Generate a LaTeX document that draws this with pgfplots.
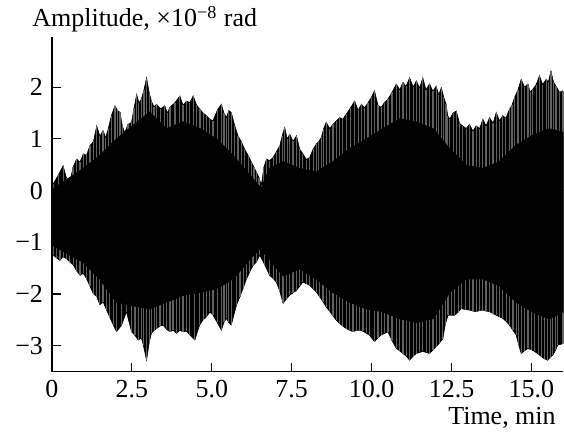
\documentclass[border=0pt]{standalone}
\usepackage{fontspec}
\setmainfont{Liberation Serif}
\usepackage{pgfplots}
\pgfplotsset{compat=1.18}
\usepackage{pgfplotstable}

% outer envelope (spike tips), upper side
\pgfplotstableread{
t v
0.00 0.10
0.04 0.13
0.20 0.30
0.35 0.48
0.45 0.25
0.56 0.16
0.66 0.45
0.77 0.61
0.88 0.55
0.98 0.71
1.08 0.68
1.19 0.87
1.30 0.95
1.40 1.25
1.50 1.05
1.60 1.16
1.68 1.02
1.76 1.19
1.86 1.45
1.97 1.64
2.05 1.55
2.13 1.51
2.20 1.25
2.28 1.12
2.38 1.28
2.49 1.32
2.57 1.60
2.65 1.86
2.72 1.70
2.80 1.77
2.88 1.95
2.96 2.18
3.04 1.90
3.11 1.73
3.19 1.62
3.27 1.67
3.40 1.58
3.53 1.64
3.61 1.50
3.69 1.61
3.85 1.70
4.00 1.83
4.10 1.65
4.21 1.73
4.31 1.70
4.42 1.83
4.52 1.66
4.63 1.57
4.73 1.50
4.83 1.45
4.94 1.38
5.04 1.35
5.17 1.55
5.30 1.67
5.38 1.50
5.46 1.41
5.53 1.55
5.61 1.51
5.72 1.25
5.82 1.06
5.92 0.95
6.03 0.80
6.14 0.68
6.24 0.55
6.32 0.45
6.40 0.35
6.48 0.25
6.55 0.10
6.63 0.45
6.71 0.61
6.81 0.58
6.92 0.64
7.02 0.75
7.13 0.87
7.20 1.05
7.28 1.22
7.36 1.00
7.44 1.09
7.54 0.95
7.65 1.06
7.75 0.80
7.85 0.71
7.96 0.60
8.06 0.64
8.17 0.80
8.27 0.90
8.35 0.95
8.43 1.03
8.50 1.20
8.58 1.32
8.69 1.20
8.79 1.28
8.90 1.35
9.00 1.41
9.10 1.38
9.21 1.48
9.34 1.60
9.47 1.73
9.58 1.55
9.68 1.67
9.78 1.60
9.89 1.70
9.99 1.80
10.09 1.93
10.20 1.65
10.30 1.61
10.40 1.70
10.51 1.77
10.64 1.90
10.77 2.06
10.88 1.95
10.98 2.09
11.08 2.02
11.19 2.18
11.30 2.00
11.40 2.12
11.50 1.98
11.60 2.18
11.70 1.95
11.81 2.06
11.92 1.92
12.02 2.02
12.10 1.85
12.18 1.99
12.26 1.80
12.33 1.67
12.38 1.45
12.44 1.38
12.55 1.50
12.65 1.54
12.75 1.30
12.85 1.25
12.96 1.20
13.06 1.28
13.17 1.15
13.27 1.25
13.38 1.20
13.48 1.38
13.58 1.25
13.69 1.41
13.80 1.30
13.90 1.51
14.00 1.35
14.10 1.45
14.20 1.40
14.31 1.57
14.39 1.65
14.47 1.80
14.58 1.95
14.68 2.15
14.78 2.00
14.89 2.06
14.96 1.90
15.04 1.96
15.15 2.05
15.25 2.22
15.35 2.05
15.46 2.15
15.53 2.10
15.61 2.31
15.69 2.10
15.77 2.02
15.88 1.90
15.98 1.93
16.00 1.90
}\topout

% outer envelope, lower side
\pgfplotstableread{
t v
0.00 -1.20
0.04 -1.25
0.14 -1.30
0.25 -1.35
0.35 -1.28
0.46 -1.32
0.56 -1.38
0.67 -1.44
0.77 -1.55
0.88 -1.64
0.98 -1.60
1.08 -1.70
1.19 -1.85
1.29 -1.99
1.40 -2.05
1.50 -2.21
1.60 -2.15
1.71 -2.31
1.81 -2.45
1.92 -2.60
2.02 -2.73
2.18 -2.60
2.33 -2.34
2.49 -2.73
2.60 -2.80
2.70 -2.89
2.80 -2.85
2.86 -2.99
2.96 -3.28
3.04 -2.95
3.11 -2.76
3.20 -2.70
3.27 -2.67
3.38 -2.62
3.48 -2.60
3.58 -2.68
3.69 -2.73
3.79 -2.70
3.90 -2.76
4.00 -2.70
4.10 -2.73
4.21 -2.72
4.31 -2.79
4.47 -2.89
4.62 -2.60
4.73 -2.50
4.83 -2.44
4.94 -2.35
5.04 -2.41
5.17 -2.55
5.30 -2.70
5.38 -2.55
5.46 -2.47
5.53 -2.55
5.61 -2.60
5.77 -2.22
5.88 -2.05
5.98 -1.89
6.08 -1.72
6.19 -1.57
6.29 -1.45
6.40 -1.38
6.50 -1.25
6.66 -1.44
6.81 -1.64
6.92 -1.70
7.02 -1.77
7.13 -1.95
7.23 -2.18
7.33 -2.10
7.44 -2.02
7.54 -1.98
7.65 -1.93
7.75 -1.85
7.85 -1.77
7.96 -1.80
8.06 -1.83
8.17 -1.90
8.27 -1.96
8.37 -2.05
8.48 -2.15
8.58 -2.25
8.69 -2.34
8.79 -2.42
8.90 -2.51
9.00 -2.57
9.10 -2.62
9.21 -2.67
9.31 -2.70
9.42 -2.73
9.52 -2.70
9.63 -2.70
9.73 -2.72
9.84 -2.76
9.94 -2.80
10.09 -2.92
10.20 -2.85
10.30 -2.79
10.41 -2.76
10.51 -2.73
10.64 -2.90
10.77 -3.05
10.88 -3.10
10.98 -3.15
11.08 -3.20
11.19 -3.28
11.30 -3.20
11.40 -3.15
11.50 -3.13
11.60 -3.11
11.71 -3.13
11.81 -3.15
11.92 -3.08
12.02 -3.02
12.12 -2.95
12.23 -2.86
12.30 -2.60
12.39 -2.41
12.50 -2.41
12.60 -2.41
12.71 -2.35
12.80 -2.28
12.93 -2.30
13.06 -2.31
13.17 -2.33
13.27 -2.34
13.38 -2.32
13.48 -2.31
13.58 -2.33
13.69 -2.34
13.80 -2.38
13.90 -2.41
14.00 -2.44
14.10 -2.47
14.21 -2.53
14.31 -2.60
14.42 -2.70
14.52 -2.79
14.60 -2.98
14.68 -3.15
14.78 -3.10
14.89 -3.05
15.00 -3.08
15.10 -3.11
15.21 -3.16
15.31 -3.21
15.40 -3.25
15.51 -3.28
15.59 -3.22
15.67 -3.18
15.76 -3.08
15.82 -2.99
15.98 -2.96
16.00 -2.95
}\botout

% solid core, upper and lower boundary
\pgfplotstableread{
t v
0.00 0.00
0.04 0.03
0.98 0.42
1.50 0.67
2.02 0.99
2.54 1.25
3.06 1.51
3.58 1.19
4.10 1.32
4.63 1.19
5.15 0.99
5.67 0.67
6.19 0.29
6.55 0.03
6.81 0.42
7.23 0.55
7.75 0.42
8.27 0.35
8.79 0.55
9.31 0.80
9.84 0.99
10.36 1.19
10.88 1.38
11.40 1.32
11.92 1.19
12.44 0.80
12.96 0.48
13.48 0.42
14.00 0.55
14.52 0.87
15.04 1.06
15.56 1.19
16.00 1.12
}\topin

\pgfplotstableread{
t v
0.00 -1.00
0.04 -1.06
0.98 -1.38
1.50 -1.70
2.02 -2.15
2.54 -2.22
3.06 -2.28
3.58 -2.15
4.10 -2.02
4.63 -1.96
5.15 -1.89
5.67 -1.70
6.19 -1.32
6.50 -1.12
6.81 -1.32
7.23 -1.64
7.75 -1.51
8.27 -1.70
8.79 -1.96
9.31 -2.15
9.84 -2.28
10.36 -2.34
10.88 -2.47
11.40 -2.54
11.92 -2.47
12.44 -1.96
12.96 -1.70
13.48 -1.70
14.00 -1.83
14.52 -2.15
15.04 -2.34
15.56 -2.47
16.00 -2.34
}\botin

\begin{document}
\fontsize{13}{15.6}\selectfont
\begin{tikzpicture}
\begin{axis}[
  scale only axis,
  width=256pt, height=167.5pt,
  xmin=0, xmax=16,
  ymin=-3.5, ymax=2.97,
  axis lines=left,
  axis line style={-, line width=0.6pt},
  axis on top,
  tick align=inside,
  major tick length=4.5pt,
  tick style={black, line width=0.6pt},
  xtick={0,2.5,5,7.5,10,12.5,15},
  xticklabels={0,2.5,5.0,7.5,10.0,12.5,15.0},
  ytick={-3,-2,-1,0,1,2},
  yticklabels={−3,−2,−1,0,1,2},
  tick label style={font=\fontsize{13}{15.6}\selectfont},
]
% outer silhouette
\addplot[fill=black, draw=black, line width=0.3pt] table[x=t, y=v] {\topout} \closedcycle;
\addplot[fill=black, draw=black, line width=0.3pt] table[x=t, y=v] {\botout} \closedcycle;
% grey spikes of the oscillation
\addplot[ycomb, black!62, line width=0.6pt] table[x=t, y=v] {\topout};
\addplot[ycomb, black!62, line width=0.6pt] table[x=t, y=v] {\botout};
% solid core
\addplot[fill=black, draw=black, line width=0.8pt] table[x=t, y=v] {\topin} \closedcycle;
\addplot[fill=black, draw=black, line width=0.8pt] table[x=t, y=v] {\botin} \closedcycle;
\end{axis}
\node[anchor=base west, inner sep=0pt] at (-10pt,172.5pt) {Amplitude, ×10\textsuperscript{−8} rad};
\node[anchor=base east, inner sep=0pt] at (252.3pt,-26.5pt) {Time, min};
\path (-26pt,-31pt) rectangle (256pt,186pt);
\end{tikzpicture}
\end{document}
